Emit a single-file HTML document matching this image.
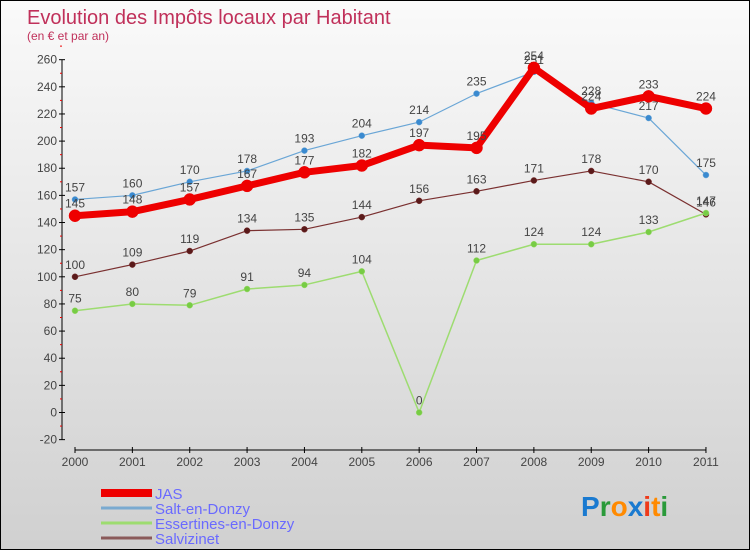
<!DOCTYPE html>
<html><head><meta charset="utf-8"><style>
html,body{margin:0;padding:0}
body{width:750px;height:550px;overflow:hidden;font-family:"Liberation Sans",sans-serif}
#wrap{position:relative;width:748px;height:548px;border:1px solid #000;background:linear-gradient(#fafafa,#d0d0d0)}
</style></head><body>
<div id="wrap">
<svg id="c" width="748" height="548"></svg>
</div>
<script>
const years=["2000","2001","2002","2003","2004","2005","2006","2007","2008","2009","2010","2011"];
const jas=[145,148,157,167,177,182,197,195,254,224,233,224];
const salt=[157,160,170,178,193,204,214,235,251,228,217,175];
const ess=[75,80,79,91,94,104,0,112,124,124,133,147];
const salv=[100,109,119,134,135,144,156,163,171,178,170,146];
const yTicks=[-20,0,20,40,60,80,100,120,140,160,180,200,220,240,260];
const NS="http://www.w3.org/2000/svg";
const svg=document.getElementById('c');
function X(i){return 74+i*57.36;}
function Y(v){return 411.5-v*1.357;}
function el(t,a,p){const e=document.createElementNS(NS,t);for(const k in a)e.setAttribute(k,a[k]);(p||svg).appendChild(e);return e;}
let t=el('text',{x:26,y:23,fill:'#c0305a','font-size':20});t.textContent='Evolution des Impôts locaux par Habitant';

t=el('text',{x:26,y:39,fill:'#c0305a','font-size':12});t.textContent='(en € et par an)';

let a=el('line',{x1:61,y1:Y(260),x2:61,y2:Y(-20),stroke:'#000'});

yTicks.forEach(v=>{el('line',{x1:58,x2:64,y1:Y(v),y2:Y(v),stroke:'#000'});
el('line',{x1:59,x2:61,y1:Y(v+10),y2:Y(v+10),stroke:'#e00'});
const l=el('text',{x:56,y:Y(v)+4,'text-anchor':'end','font-size':12,fill:'#444'});l.textContent=v;
});
a=el('line',{x1:X(0),y1:449,x2:X(11),y2:449,stroke:'#000'});

years.forEach((y,i)=>{el('line',{x1:X(i),x2:X(i),y1:446,y2:452,stroke:'#000'});
const l=el('text',{x:X(i),y:465,'text-anchor':'middle','font-size':12,fill:'#444'});l.textContent=y;
});
function series(d,col,dot,w,r,name){
const g=el('g',{});
el('polyline',{points:d.map((v,i)=>X(i)+','+Y(v)).join(' '),fill:'none',stroke:col,'stroke-width':w,'stroke-linejoin':'round'},g);
d.forEach((v,i)=>{el('circle',{cx:X(i),cy:Y(v),r:r,fill:dot,stroke:col,'stroke-width':0.5},g);
const l=el('text',{x:X(i),y:Y(v)-8,'text-anchor':'middle','font-size':12,fill:'#444'},g);l.textContent=v;});}
series(salv,'#7a3030','#5a1a1a',1.2,3,'series-salvizinet');
series(ess,'#9ddc70','#77cc44',1.5,3,'series-essertines');
series(salt,'#6aa6d6','#3a8ad0',1.2,3,'series-salt-en-donzy');
series(jas,'#ee0000','#ee0000',7,6,'series-jas');
const leg=[['JAS','#ee0000',8],['Salt-en-Donzy','#7aaad0',3],['Essertines-en-Donzy','#9ddc70',3],['Salvizinet','#8a5a5a',3]];
leg.forEach((L,i)=>{const y=492+i*15;const g=el('g',{});

el('line',{x1:100,x2:151,y1:y,y2:y,stroke:L[1],'stroke-width':L[2]},g);
const l=el('text',{x:154,y:y+6,'font-size':15,fill:'#6a6aff'},g);l.textContent=L[0];});
const lg=el('text',{x:580,y:515,'font-size':28,'font-weight':'bold'});
[['P','#1a7ad0'],['r','#2a9a3a'],['o','#ff8a00'],['x','#1a7ad0'],['i','#ee3a1a'],['t','#ff8a00'],['i','#2a9a3a']].forEach(c=>{const s=el('tspan',{fill:c[1]},lg);s.textContent=c[0];});
</script>
</body></html>
